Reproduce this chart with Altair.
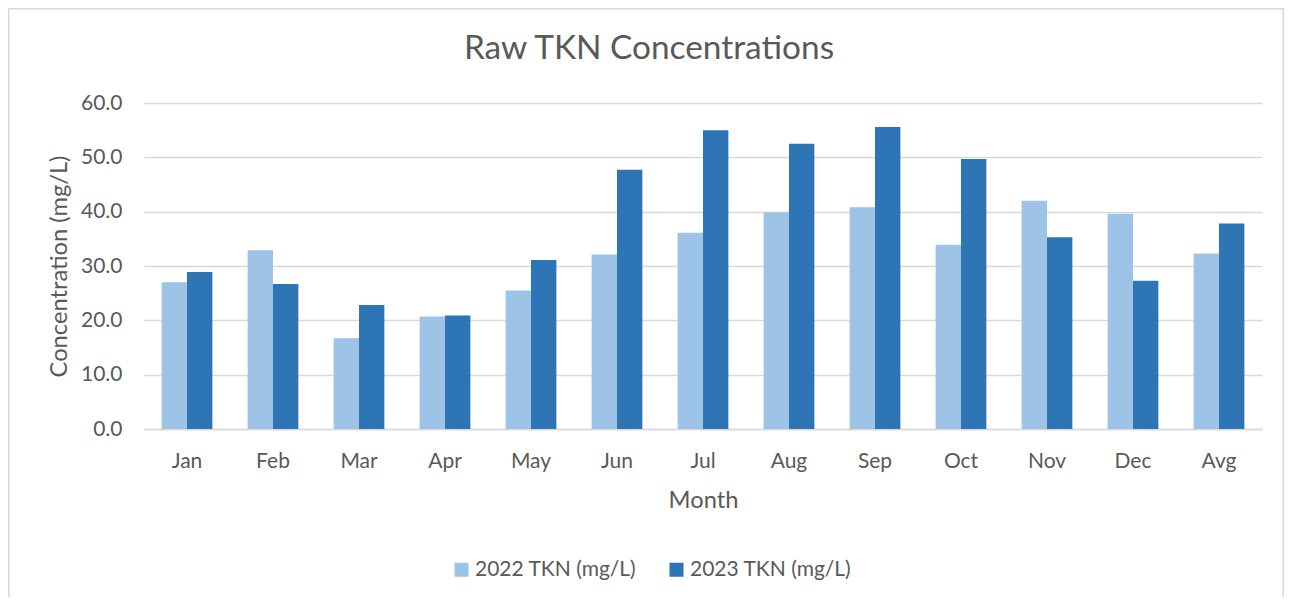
import altair as alt
import pandas as pd

months = ["Jan", "Feb", "Mar", "Apr", "May", "Jun", "Jul", "Aug", "Sep", "Oct", "Nov", "Dec", "Avg"]
tkn_2022 = [27.0, 32.9, 16.7, 20.7, 25.5, 32.1, 36.1, 39.9, 40.8, 33.9, 42.0, 39.6, 32.3]
tkn_2023 = [28.9, 26.7, 22.8, 20.9, 31.1, 47.7, 55.0, 52.5, 55.6, 49.7, 35.3, 27.3, 37.8]
series = ["2022 TKN (mg/L)", "2023 TKN (mg/L)"]
colors = ["#9DC3E6", "#2E75B6"]
y_ticks = [0, 10, 20, 30, 40, 50, 60]

rows = []
for m, a, b in zip(months, tkn_2022, tkn_2023):
    rows.append({"Month": m, "Series": series[0], "Value": a})
    rows.append({"Month": m, "Series": series[1], "Value": b})
df = pd.DataFrame(rows)

TEXT = "#595959"
GRID = "#D9D9D9"
FONT = "Lato"

frame = alt.Chart(pd.DataFrame({"f": [0]})).mark_rect(
    fill="transparent", stroke=GRID, strokeWidth=1.5
).encode(
    x=alt.value(-135.25), x2=alt.value(1139.25), y=alt.value(-94.25), y2=alt.value(700)
)

bars = alt.Chart(df).mark_bar().encode(
    x=alt.X(
        "Month:N",
        sort=months,
        scale=alt.Scale(paddingInner=0.41, paddingOuter=0.205),
        axis=alt.Axis(
            title="Month", labelAngle=0, ticks=False, grid=False,
            domainColor=GRID, domainWidth=1.5,
            labelPadding=21, titlePadding=17,
        ),
    ),
    xOffset=alt.XOffset("Series:N", sort=series, scale=alt.Scale(paddingInner=0, paddingOuter=0)),
    y=alt.Y(
        "Value:Q",
        scale=alt.Scale(domain=[0, 60]),
        axis=alt.Axis(
            title="Concentration (mg/L)", values=y_ticks, format=".1f",
            ticks=False, domain=False, grid=True, gridColor=GRID, gridWidth=1.3,
            labelPadding=22, titlePadding=9,
        ),
    ),
    color=alt.Color(
        "Series:N",
        sort=series,
        scale=alt.Scale(domain=series, range=colors),
        legend=alt.Legend(
            title=None, orient="none", direction="horizontal",
            legendX=307, legendY=456, padding=0,
            symbolType="square", symbolSize=196, symbolStrokeWidth=0,
            labelOffset=3, columnPadding=29, labelLimit=400,
            labelFont=FONT, labelFontSize=21, labelColor=TEXT,
        ),
    ),
)

chart = alt.layer(frame, bars).properties(
    width=1118,
    height=326,
    autosize=alt.AutoSizeParams(type="none"),
    padding={"left": 136, "top": 95, "right": 22, "bottom": 168},
    title=alt.TitleParams(
        "Raw TKN Concentrations", font=FONT, fontSize=33.4, fontWeight="normal",
        color=TEXT, offset=0, dx=3, dy=58, anchor="middle", frame="bounds",
    ),
).configure(
    background="white",
).configure_view(
    stroke=None,
).configure_axis(
    labelFont=FONT, labelFontSize=21, labelColor=TEXT,
    titleFont=FONT, titleFontSize=23.7, titleColor=TEXT, titleFontWeight="normal",
)

chart.save("out.html", embed_options={"renderer": "svg", "actions": False})
